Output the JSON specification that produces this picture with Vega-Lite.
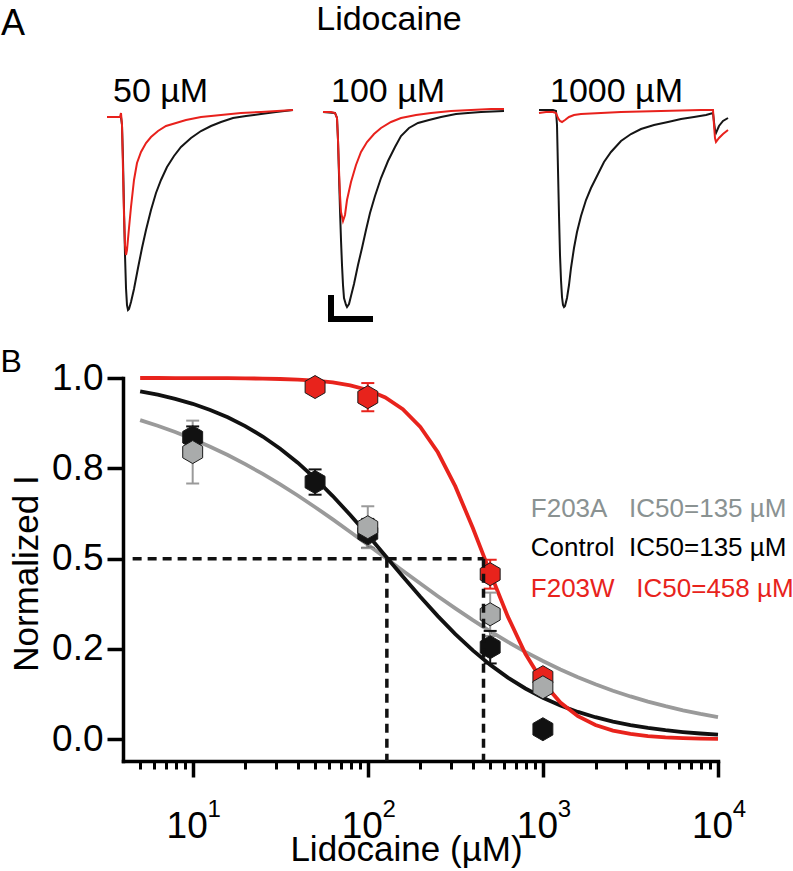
{
"$schema": "https://vega.github.io/schema/vega-lite/v6.json",
"background": "white",
"padding": {"left": 0, "top": 3, "right": 2, "bottom": 2},
"config": {"view": {"stroke": null}, "font": "Liberation Sans"},
"spacing": 22,
"datasets": {
"traces": [
{"dose":50,"c":"Control","t":0,"v":0},{"dose":50,"c":"Control","t":0.8,"v":0},{"dose":50,"c":"Control","t":1.4,"v":0},{"dose":50,"c":"Control","t":1.5,"v":-0.08},{"dose":50,"c":"Control","t":1.6,"v":-0.43},{"dose":50,"c":"Control","t":1.7,"v":-0.93},{"dose":50,"c":"Control","t":1.8,"v":-1.38},{"dose":50,"c":"Control","t":1.9,"v":-1.71},{"dose":50,"c":"Control","t":2.0,"v":-1.88},{"dose":50,"c":"Control","t":2.1,"v":-1.93},{"dose":50,"c":"Control","t":2.2,"v":-1.92},{"dose":50,"c":"Control","t":2.4,"v":-1.85},{"dose":50,"c":"Control","t":2.7,"v":-1.72},{"dose":50,"c":"Control","t":3.1,"v":-1.51},{"dose":50,"c":"Control","t":3.5,"v":-1.31},{"dose":50,"c":"Control","t":3.9,"v":-1.13},{"dose":50,"c":"Control","t":4.4,"v":-0.93},{"dose":50,"c":"Control","t":4.9,"v":-0.76},{"dose":50,"c":"Control","t":5.4,"v":-0.63},{"dose":50,"c":"Control","t":6.0,"v":-0.5},{"dose":50,"c":"Control","t":6.7,"v":-0.39},{"dose":50,"c":"Control","t":7.4,"v":-0.3},{"dose":50,"c":"Control","t":8.4,"v":-0.21},{"dose":50,"c":"Control","t":9.4,"v":-0.14},{"dose":50,"c":"Control","t":10.4,"v":-0.09},{"dose":50,"c":"Control","t":11.4,"v":-0.05},{"dose":50,"c":"Control","t":12.6,"v":-0.01},{"dose":50,"c":"Control","t":13.9,"v":0.01},{"dose":50,"c":"Control","t":15.4,"v":0.03},{"dose":50,"c":"Control","t":16.9,"v":0.05},{"dose":50,"c":"Control","t":18.6,"v":0.07},
{"dose":50,"c":"Lido","t":0,"v":0},{"dose":50,"c":"Lido","t":0.8,"v":0},{"dose":50,"c":"Lido","t":1.3,"v":0},{"dose":50,"c":"Lido","t":1.4,"v":0.04},{"dose":50,"c":"Lido","t":1.5,"v":-0.08},{"dose":50,"c":"Lido","t":1.6,"v":-0.53},{"dose":50,"c":"Lido","t":1.7,"v":-0.98},{"dose":50,"c":"Lido","t":1.8,"v":-1.28},{"dose":50,"c":"Lido","t":1.9,"v":-1.38},{"dose":50,"c":"Lido","t":2.0,"v":-1.33},{"dose":50,"c":"Lido","t":2.2,"v":-1.11},{"dose":50,"c":"Lido","t":2.4,"v":-0.9},{"dose":50,"c":"Lido","t":2.7,"v":-0.63},{"dose":50,"c":"Lido","t":3.0,"v":-0.46},{"dose":50,"c":"Lido","t":3.4,"v":-0.35},{"dose":50,"c":"Lido","t":3.9,"v":-0.26},{"dose":50,"c":"Lido","t":4.4,"v":-0.2},{"dose":50,"c":"Lido","t":5.1,"v":-0.14},{"dose":50,"c":"Lido","t":5.9,"v":-0.09},{"dose":50,"c":"Lido","t":6.9,"v":-0.06},{"dose":50,"c":"Lido","t":7.9,"v":-0.03},{"dose":50,"c":"Lido","t":9.4,"v":0},{"dose":50,"c":"Lido","t":11.4,"v":0.02},{"dose":50,"c":"Lido","t":13.4,"v":0.04},{"dose":50,"c":"Lido","t":15.4,"v":0.05},{"dose":50,"c":"Lido","t":18.6,"v":0.07},
{"dose":100,"c":"Control","t":0,"v":0.05},{"dose":100,"c":"Control","t":1.2,"v":0.04},{"dose":100,"c":"Control","t":1.4,"v":-0.01},{"dose":100,"c":"Control","t":1.5,"v":-0.23},{"dose":100,"c":"Control","t":1.6,"v":-0.58},{"dose":100,"c":"Control","t":1.7,"v":-0.93},{"dose":100,"c":"Control","t":1.8,"v":-1.23},{"dose":100,"c":"Control","t":1.9,"v":-1.48},{"dose":100,"c":"Control","t":2.0,"v":-1.68},{"dose":100,"c":"Control","t":2.1,"v":-1.81},{"dose":100,"c":"Control","t":2.3,"v":-1.88},{"dose":100,"c":"Control","t":2.4,"v":-1.9},{"dose":100,"c":"Control","t":2.6,"v":-1.87},{"dose":100,"c":"Control","t":2.8,"v":-1.79},{"dose":100,"c":"Control","t":3.1,"v":-1.67},{"dose":100,"c":"Control","t":3.5,"v":-1.48},{"dose":100,"c":"Control","t":3.9,"v":-1.31},{"dose":100,"c":"Control","t":4.3,"v":-1.13},{"dose":100,"c":"Control","t":4.7,"v":-0.96},{"dose":100,"c":"Control","t":5.2,"v":-0.79},{"dose":100,"c":"Control","t":5.8,"v":-0.61},{"dose":100,"c":"Control","t":6.5,"v":-0.44},{"dose":100,"c":"Control","t":7.2,"v":-0.3},{"dose":100,"c":"Control","t":7.8,"v":-0.19},{"dose":100,"c":"Control","t":8.6,"v":-0.11},{"dose":100,"c":"Control","t":9.5,"v":-0.06},{"dose":100,"c":"Control","t":10.6,"v":-0.03},{"dose":100,"c":"Control","t":11.8,"v":0},{"dose":100,"c":"Control","t":13.3,"v":0.03},{"dose":100,"c":"Control","t":14.5,"v":0.04},{"dose":100,"c":"Control","t":15.8,"v":0.05},{"dose":100,"c":"Control","t":18.1,"v":0.06},
{"dose":100,"c":"Lido","t":0,"v":0.05},{"dose":100,"c":"Lido","t":0.8,"v":0.05},{"dose":100,"c":"Lido","t":1.2,"v":0.04},{"dose":100,"c":"Lido","t":1.4,"v":-0.01},{"dose":100,"c":"Lido","t":1.5,"v":-0.23},{"dose":100,"c":"Lido","t":1.6,"v":-0.53},{"dose":100,"c":"Lido","t":1.7,"v":-0.78},{"dose":100,"c":"Lido","t":1.8,"v":-0.95},{"dose":100,"c":"Lido","t":2.0,"v":-1.04},{"dose":100,"c":"Lido","t":2.2,"v":-0.98},{"dose":100,"c":"Lido","t":2.4,"v":-0.83},{"dose":100,"c":"Lido","t":2.8,"v":-0.65},{"dose":100,"c":"Lido","t":3.3,"v":-0.48},{"dose":100,"c":"Lido","t":3.8,"v":-0.35},{"dose":100,"c":"Lido","t":4.4,"v":-0.25},{"dose":100,"c":"Lido","t":5.1,"v":-0.17},{"dose":100,"c":"Lido","t":5.8,"v":-0.11},{"dose":100,"c":"Lido","t":6.8,"v":-0.05},{"dose":100,"c":"Lido","t":7.8,"v":-0.01},{"dose":100,"c":"Lido","t":9.3,"v":0.02},{"dose":100,"c":"Lido","t":10.8,"v":0.04},{"dose":100,"c":"Lido","t":12.8,"v":0.06},{"dose":100,"c":"Lido","t":14.8,"v":0.07},{"dose":100,"c":"Lido","t":16.8,"v":0.08},{"dose":100,"c":"Lido","t":18.1,"v":0.08},
{"dose":1000,"c":"Control","t":0,"v":0.07},{"dose":1000,"c":"Control","t":0.7,"v":0.07},{"dose":1000,"c":"Control","t":1.4,"v":0.07},{"dose":1000,"c":"Control","t":1.7,"v":0.06},{"dose":1000,"c":"Control","t":1.8,"v":-0.08},{"dose":1000,"c":"Control","t":1.9,"v":-0.53},{"dose":1000,"c":"Control","t":2.0,"v":-0.98},{"dose":1000,"c":"Control","t":2.1,"v":-1.38},{"dose":1000,"c":"Control","t":2.2,"v":-1.63},{"dose":1000,"c":"Control","t":2.3,"v":-1.8},{"dose":1000,"c":"Control","t":2.4,"v":-1.88},{"dose":1000,"c":"Control","t":2.5,"v":-1.9},{"dose":1000,"c":"Control","t":2.6,"v":-1.89},{"dose":1000,"c":"Control","t":2.8,"v":-1.81},{"dose":1000,"c":"Control","t":3.0,"v":-1.68},{"dose":1000,"c":"Control","t":3.2,"v":-1.51},{"dose":1000,"c":"Control","t":3.5,"v":-1.31},{"dose":1000,"c":"Control","t":3.8,"v":-1.15},{"dose":1000,"c":"Control","t":4.2,"v":-0.99},{"dose":1000,"c":"Control","t":4.7,"v":-0.83},{"dose":1000,"c":"Control","t":5.2,"v":-0.71},{"dose":1000,"c":"Control","t":5.9,"v":-0.57},{"dose":1000,"c":"Control","t":6.5,"v":-0.45},{"dose":1000,"c":"Control","t":7.2,"v":-0.35},{"dose":1000,"c":"Control","t":8.2,"v":-0.24},{"dose":1000,"c":"Control","t":9.2,"v":-0.17},{"dose":1000,"c":"Control","t":10.2,"v":-0.12},{"dose":1000,"c":"Control","t":11.5,"v":-0.08},{"dose":1000,"c":"Control","t":12.9,"v":-0.05},{"dose":1000,"c":"Control","t":14.2,"v":-0.02},{"dose":1000,"c":"Control","t":15.5,"v":0},{"dose":1000,"c":"Control","t":16.7,"v":0.02},{"dose":1000,"c":"Control","t":17.4,"v":0.04},{"dose":1000,"c":"Control","t":17.5,"v":-0.05},{"dose":1000,"c":"Control","t":17.6,"v":-0.13},{"dose":1000,"c":"Control","t":17.7,"v":-0.16},{"dose":1000,"c":"Control","t":18.0,"v":-0.09},{"dose":1000,"c":"Control","t":18.4,"v":-0.04},{"dose":1000,"c":"Control","t":18.9,"v":-0.01},
{"dose":1000,"c":"Lido","t":0,"v":0.04},{"dose":1000,"c":"Lido","t":0.7,"v":0.05},{"dose":1000,"c":"Lido","t":1.4,"v":0.05},{"dose":1000,"c":"Lido","t":1.7,"v":0.04},{"dose":1000,"c":"Lido","t":1.9,"v":-0.01},{"dose":1000,"c":"Lido","t":2.1,"v":-0.04},{"dose":1000,"c":"Lido","t":2.3,"v":-0.05},{"dose":1000,"c":"Lido","t":2.6,"v":-0.03},{"dose":1000,"c":"Lido","t":3.0,"v":0},{"dose":1000,"c":"Lido","t":3.5,"v":0.02},{"dose":1000,"c":"Lido","t":4.2,"v":0.03},{"dose":1000,"c":"Lido","t":6.2,"v":0.04},{"dose":1000,"c":"Lido","t":8.2,"v":0.05},{"dose":1000,"c":"Lido","t":10.2,"v":0.055},{"dose":1000,"c":"Lido","t":12.2,"v":0.06},{"dose":1000,"c":"Lido","t":14.2,"v":0.065},{"dose":1000,"c":"Lido","t":16.2,"v":0.07},{"dose":1000,"c":"Lido","t":17.4,"v":0.07},{"dose":1000,"c":"Lido","t":17.5,"v":-0.08},{"dose":1000,"c":"Lido","t":17.6,"v":-0.21},{"dose":1000,"c":"Lido","t":17.7,"v":-0.25},{"dose":1000,"c":"Lido","t":18.0,"v":-0.21},{"dose":1000,"c":"Lido","t":18.4,"v":-0.17},{"dose":1000,"c":"Lido","t":18.9,"v":-0.13}
],
"scalebar": [{"t":0.8,"t2":0.8,"v":-1.81,"v2":-2.02},{"t":0.8,"t2":4.7,"v":-2.02,"v2":-2.02}],
"curves": [
{"s":"F203A","x":5.012,"y":0.8834},{"s":"F203A","x":6.31,"y":0.8678},{"s":"F203A","x":7.943,"y":0.8504},{"s":"F203A","x":10,"y":0.8311},{"s":"F203A","x":12.59,"y":0.8099},{"s":"F203A","x":15.85,"y":0.7868},{"s":"F203A","x":19.95,"y":0.7616},{"s":"F203A","x":25.12,"y":0.7345},{"s":"F203A","x":31.62,"y":0.7055},{"s":"F203A","x":39.81,"y":0.6748},{"s":"F203A","x":50.12,"y":0.6424},{"s":"F203A","x":63.1,"y":0.6087},{"s":"F203A","x":79.43,"y":0.574},{"s":"F203A","x":100,"y":0.5385},{"s":"F203A","x":125.9,"y":0.5025},{"s":"F203A","x":158.5,"y":0.4666},{"s":"F203A","x":199.5,"y":0.431},{"s":"F203A","x":251.2,"y":0.3961},{"s":"F203A","x":316.2,"y":0.3623},{"s":"F203A","x":398.1,"y":0.3297},{"s":"F203A","x":501.2,"y":0.2987},{"s":"F203A","x":631,"y":0.2695},{"s":"F203A","x":794.3,"y":0.2421},{"s":"F203A","x":1000,"y":0.2167},{"s":"F203A","x":1259,"y":0.1932},{"s":"F203A","x":1585,"y":0.1718},{"s":"F203A","x":1995,"y":0.1523},{"s":"F203A","x":2512,"y":0.1346},{"s":"F203A","x":3162,"y":0.1187},{"s":"F203A","x":3981,"y":0.1045},{"s":"F203A","x":5012,"y":0.0917},{"s":"F203A","x":6310,"y":0.0804},{"s":"F203A","x":7943,"y":0.0704},{"s":"F203A","x":10000,"y":0.0616},
{"s":"Control","x":5.012,"y":0.9629},{"s":"Control","x":6.31,"y":0.9537},{"s":"Control","x":7.943,"y":0.9424},{"s":"Control","x":10,"y":0.9286},{"s":"Control","x":12.59,"y":0.9117},{"s":"Control","x":15.85,"y":0.8913},{"s":"Control","x":19.95,"y":0.8669},{"s":"Control","x":25.12,"y":0.8381},{"s":"Control","x":31.62,"y":0.8044},{"s":"Control","x":39.81,"y":0.7656},{"s":"Control","x":50.12,"y":0.7218},{"s":"Control","x":63.1,"y":0.6733},{"s":"Control","x":79.43,"y":0.6208},{"s":"Control","x":100,"y":0.5652},{"s":"Control","x":125.9,"y":0.508},{"s":"Control","x":158.5,"y":0.4507},{"s":"Control","x":199.5,"y":0.3945},{"s":"Control","x":251.2,"y":0.3411},{"s":"Control","x":316.2,"y":0.2914},{"s":"Control","x":398.1,"y":0.2462},{"s":"Control","x":501.2,"y":0.206},{"s":"Control","x":631,"y":0.1709},{"s":"Control","x":794.3,"y":0.1407},{"s":"Control","x":1000,"y":0.1151},{"s":"Control","x":1259,"y":0.0936},{"s":"Control","x":1585,"y":0.0758},{"s":"Control","x":1995,"y":0.0612},{"s":"Control","x":2512,"y":0.0492},{"s":"Control","x":3162,"y":0.0395},{"s":"Control","x":3981,"y":0.0316},{"s":"Control","x":5012,"y":0.0253},{"s":"Control","x":6310,"y":0.0202},{"s":"Control","x":7943,"y":0.0161},{"s":"Control","x":10000,"y":0.0128},
{"s":"F203W","x":5.012,"y":1.0},{"s":"F203W","x":6.31,"y":1.0},{"s":"F203W","x":7.943,"y":0.9999},{"s":"F203W","x":10,"y":0.9998},{"s":"F203W","x":12.59,"y":0.9996},{"s":"F203W","x":15.85,"y":0.9994},{"s":"F203W","x":19.95,"y":0.999},{"s":"F203W","x":25.12,"y":0.9983},{"s":"F203W","x":31.62,"y":0.9972},{"s":"F203W","x":39.81,"y":0.9954},{"s":"F203W","x":50.12,"y":0.9925},{"s":"F203W","x":63.1,"y":0.9876},{"s":"F203W","x":79.43,"y":0.9796},{"s":"F203W","x":100,"y":0.9667},{"s":"F203W","x":125.9,"y":0.946},{"s":"F203W","x":158.5,"y":0.9138},{"s":"F203W","x":199.5,"y":0.8648},{"s":"F203W","x":251.2,"y":0.7944},{"s":"F203W","x":316.2,"y":0.7},{"s":"F203W","x":398.1,"y":0.5849},{"s":"F203W","x":501.2,"y":0.4598},{"s":"F203W","x":631,"y":0.3396},{"s":"F203W","x":794.3,"y":0.2369},{"s":"F203W","x":1000,"y":0.1579},{"s":"F203W","x":1259,"y":0.1017},{"s":"F203W","x":1585,"y":0.064},{"s":"F203W","x":1995,"y":0.0397},{"s":"F203W","x":2512,"y":0.0243},{"s":"F203W","x":3162,"y":0.0148},{"s":"F203W","x":3981,"y":0.009},{"s":"F203W","x":5012,"y":0.0055},{"s":"F203W","x":6310,"y":0.0033},{"s":"F203W","x":7943,"y":0.002},{"s":"F203W","x":10000,"y":0.0012}
],
"points": [
{"s":"Control","x":10,"y":0.836,"lo":0.806,"hi":0.866},
{"s":"Control","x":50,"y":0.712,"lo":0.677,"hi":0.747},
{"s":"Control","x":100,"y":0.57,"lo":0.53,"hi":0.61},
{"s":"Control","x":500,"y":0.255,"lo":0.21,"hi":0.3},
{"s":"Control","x":1000,"y":0.028,"lo":0.018,"hi":0.038},
{"s":"F203W","x":50,"y":0.975,"lo":0.963,"hi":0.987},
{"s":"F203W","x":100,"y":0.947,"lo":0.908,"hi":0.986},
{"s":"F203W","x":500,"y":0.457,"lo":0.417,"hi":0.497},
{"s":"F203W","x":1000,"y":0.172,"lo":0.157,"hi":0.187},
{"s":"F203A","x":10,"y":0.795,"lo":0.708,"hi":0.882},
{"s":"F203A","x":100,"y":0.587,"lo":0.529,"hi":0.645},
{"s":"F203A","x":500,"y":0.346,"lo":0.286,"hi":0.406},
{"s":"F203A","x":1000,"y":0.144,"lo":0.132,"hi":0.156}
],
"guides": [
{"x":4.54,"x2":458,"y":0.5,"y2":0.5},
{"x":128.5,"x2":128.5,"y":0.5,"y2":-0.06},
{"x":458,"x2":458,"y":0.5,"y2":-0.06}
],
"legend": [
{"s":"F203A","label":"F203A\u00a0\u00a0\u00a0IC50=135 µM","x":853,"y":0.615},
{"s":"Control","label":"Control\u00a0\u00a0IC50=135 µM","x":853,"y":0.507},
{"s":"F203W","label":"F203W\u00a0\u00a0\u00a0IC50=458 µM","x":853,"y":0.393}
]
},
"vconcat": [
{
"hconcat": [
{
"width": 174, "height": 210,
"layer": [
{"data": {"name": "traces"}, "transform": [{"filter": "datum.dose === 50 && datum.c === 'Control'"}], "mark": {"type": "line", "color": "#151515", "strokeWidth": 2}, "encoding": {"x": {"field": "t", "type": "quantitative", "scale": {"domain": [1.6, 19], "nice": false, "zero": false}, "axis": null}, "y": {"field": "v", "type": "quantitative", "scale": {"domain": [-1.99, 0.11], "nice": false, "zero": false}, "axis": null}}},
{"data": {"name": "traces"}, "transform": [{"filter": "datum.dose === 50 && datum.c === 'Lido'"}], "mark": {"type": "line", "color": "#e8211c", "strokeWidth": 2}, "encoding": {"x": {"field": "t", "type": "quantitative", "axis": null}, "y": {"field": "v", "type": "quantitative", "axis": null}}},
{"data": {"values": [{"label": "50 µM"}]}, "mark": {"type": "text", "align": "left", "baseline": "alphabetic", "fontSize": 34, "font": "Liberation Sans", "color": "#000"}, "encoding": {"x": {"datum": 0.6, "type": "quantitative", "axis": null}, "y": {"datum": 0.15, "type": "quantitative", "axis": null}, "text": {"field": "label"}}},
{"data": {"values": [{"label": "A"}]}, "mark": {"type": "text", "align": "left", "baseline": "alphabetic", "fontSize": 36, "font": "Liberation Sans", "color": "#000"}, "encoding": {"x": {"datum": -10.6, "type": "quantitative", "axis": null}, "y": {"datum": 0.82, "type": "quantitative", "axis": null}, "text": {"field": "label"}}}
]
},
{
"width": 190, "height": 210,
"layer": [
{"data": {"name": "traces"}, "transform": [{"filter": "datum.dose === 100 && datum.c === 'Control'"}], "mark": {"type": "line", "color": "#151515", "strokeWidth": 2}, "encoding": {"x": {"field": "t", "type": "quantitative", "scale": {"domain": [0, 19], "nice": false, "zero": false}, "axis": null}, "y": {"field": "v", "type": "quantitative", "scale": {"domain": [-1.99, 0.11], "nice": false, "zero": false}, "axis": null}}},
{"data": {"name": "traces"}, "transform": [{"filter": "datum.dose === 100 && datum.c === 'Lido'"}], "mark": {"type": "line", "color": "#e8211c", "strokeWidth": 2}, "encoding": {"x": {"field": "t", "type": "quantitative", "axis": null}, "y": {"field": "v", "type": "quantitative", "axis": null}}},
{"data": {"name": "scalebar"}, "mark": {"type": "rule", "color": "#000", "strokeWidth": 6, "strokeCap": "square"}, "encoding": {"x": {"field": "t", "type": "quantitative", "axis": null}, "x2": {"field": "t2"}, "y": {"field": "v", "type": "quantitative", "axis": null}, "y2": {"field": "v2"}}},
{"data": {"values": [{"label": "100 µM"}]}, "mark": {"type": "text", "align": "left", "baseline": "alphabetic", "fontSize": 34, "font": "Liberation Sans", "color": "#000"}, "encoding": {"x": {"datum": 0.8, "type": "quantitative", "axis": null}, "y": {"datum": 0.15, "type": "quantitative", "axis": null}, "text": {"field": "label"}}},
{"data": {"values": [{"label": "Lidocaine"}]}, "mark": {"type": "text", "align": "center", "baseline": "alphabetic", "fontSize": 34, "font": "Liberation Sans", "color": "#000"}, "encoding": {"x": {"datum": 6.6, "type": "quantitative", "axis": null}, "y": {"datum": 0.87, "type": "quantitative", "axis": null}, "text": {"field": "label"}}}
]
},
{
"width": 190, "height": 210,
"layer": [
{"data": {"name": "traces"}, "transform": [{"filter": "datum.dose === 1000 && datum.c === 'Control'"}], "mark": {"type": "line", "color": "#151515", "strokeWidth": 2}, "encoding": {"x": {"field": "t", "type": "quantitative", "scale": {"domain": [0, 19], "nice": false, "zero": false}, "axis": null}, "y": {"field": "v", "type": "quantitative", "scale": {"domain": [-1.99, 0.11], "nice": false, "zero": false}, "axis": null}}},
{"data": {"name": "traces"}, "transform": [{"filter": "datum.dose === 1000 && datum.c === 'Lido'"}], "mark": {"type": "line", "color": "#e8211c", "strokeWidth": 2}, "encoding": {"x": {"field": "t", "type": "quantitative", "axis": null}, "y": {"field": "v", "type": "quantitative", "axis": null}}},
{"data": {"values": [{"label": "1000 µM"}]}, "mark": {"type": "text", "align": "left", "baseline": "alphabetic", "fontSize": 34, "font": "Liberation Sans", "color": "#000"}, "encoding": {"x": {"datum": 1.1, "type": "quantitative", "axis": null}, "y": {"datum": 0.15, "type": "quantitative", "axis": null}, "text": {"field": "label"}}}
]
}
],
"spacing": 26,
"bounds": "flush"
},
{
"width": 595, "height": 383,
"layer": [
{"data": {"name": "curves"}, "mark": {"type": "line", "strokeWidth": 3.8},
 "encoding": {
  "x": {"field": "x", "type": "quantitative", "scale": {"type": "log", "domain": [4, 10000], "nice": false},
        "axis": {"orient": "bottom", "values": [5,6,7,8,9,20,30,40,50,60,70,80,90,200,300,400,500,600,700,800,900,2000,3000,4000,5000,6000,7000,8000,9000], "labels": false, "tickSize": 8, "tickWidth": 3, "tickColor": "#000", "domain": true, "domainWidth": 3.5, "domainColor": "#000", "domainCap": "square", "title": null, "grid": false}},
  "y": {"field": "y", "type": "quantitative", "scale": {"domain": [-0.06, 1], "nice": false, "zero": false},
        "axis": {"values": [0, 0.25, 0.5, 0.75, 1], "labelExpr": "datum.value == 0.25 ? '0.2' : datum.value == 0.75 ? '0.8' : format(datum.value, '.1f')", "tickSize": 16, "tickWidth": 3.5, "tickColor": "#000", "domain": true, "domainWidth": 3.5, "domainColor": "#000", "domainCap": "square", "labelFontSize": 37, "labelPadding": 4, "labelColor": "#000", "labelFont": "Liberation Sans", "labelFlush": false, "labelOverlap": false, "grid": false, "title": "Normalized I", "titleFontSize": 35, "titleFontWeight": "normal", "titleFont": "Liberation Sans", "titleColor": "#000", "titleX": -86, "titleY": 195, "titleBaseline": "alphabetic", "titleAngle": -90}},
  "stroke": {"field": "s", "type": "nominal", "scale": {"domain": ["F203A", "Control", "F203W"], "range": ["#9a9a9a", "#111111", "#e8231c"]}, "legend": null}
 }},
{"data": {"name": "points"}, "mark": {"type": "rule", "strokeWidth": 2},
 "encoding": {"x": {"field": "x", "type": "quantitative", "scale": {"type": "log", "domain": [4, 10000], "nice": false}, "axis": null}, "y": {"field": "lo", "type": "quantitative", "scale": {"domain": [-0.06, 1], "nice": false, "zero": false}}, "y2": {"field": "hi"}, "stroke": {"field": "s", "type": "nominal", "legend": null}}},
{"data": {"name": "points"}, "mark": {"type": "point", "shape": "M-1,0L1,0", "size": 169, "filled": false, "strokeWidth": 2, "opacity": 1},
 "encoding": {"x": {"field": "x", "type": "quantitative", "scale": {"type": "log", "domain": [4, 10000], "nice": false}, "axis": null}, "y": {"field": "hi", "type": "quantitative", "scale": {"domain": [-0.06, 1], "nice": false, "zero": false}}, "stroke": {"field": "s", "type": "nominal", "legend": null}}},
{"data": {"name": "points"}, "mark": {"type": "point", "shape": "M-1,0L1,0", "size": 169, "filled": false, "strokeWidth": 2, "opacity": 1},
 "encoding": {"x": {"field": "x", "type": "quantitative", "scale": {"type": "log", "domain": [4, 10000], "nice": false}, "axis": null}, "y": {"field": "lo", "type": "quantitative", "scale": {"domain": [-0.06, 1], "nice": false, "zero": false}}, "stroke": {"field": "s", "type": "nominal", "legend": null}}},
{"data": {"name": "points"}, "mark": {"type": "point", "shape": "M0,-1L0.866,-0.5L0.866,0.5L0,1L-0.866,0.5L-0.866,-0.5Z", "size": 529, "filled": true, "opacity": 1, "stroke": "#1a1a1a", "strokeWidth": 1},
 "encoding": {"x": {"field": "x", "type": "quantitative", "scale": {"type": "log", "domain": [4, 10000], "nice": false}, "axis": null}, "y": {"field": "y", "type": "quantitative", "scale": {"domain": [-0.06, 1], "nice": false, "zero": false}}, "fill": {"field": "s", "type": "nominal", "scale": {"domain": ["F203A", "Control", "F203W"], "range": ["#a9abab", "#111111", "#e8231c"]}, "legend": null}}},
{"data": {"name": "guides"}, "mark": {"type": "rule", "strokeWidth": 3.5, "strokeDash": [9, 6], "color": "#111111"},
 "encoding": {
  "x": {"field": "x", "type": "quantitative", "scale": {"type": "log", "domain": [4, 10000], "nice": false},
        "axis": {"orient": "bottom", "values": [10, 100, 1000, 10000], "tickSize": 16, "tickWidth": 3.5, "tickColor": "#000", "domain": false, "labelExpr": "'10'", "labelFontSize": 37, "labelFont": "Liberation Sans", "labelBaseline": "alphabetic", "labelPadding": 60, "labelOffset": -6, "labelFlush": false, "labelOverlap": false, "labelColor": "#000", "grid": false, "title": "Lidocaine (µM)", "titleFontSize": 35, "titleFontWeight": "normal", "titleFont": "Liberation Sans", "titleColor": "#000", "titleX": 283, "titleY": 99, "titleBaseline": "alphabetic"}},
  "x2": {"field": "x2"},
  "y": {"field": "y", "type": "quantitative", "scale": {"domain": [-0.06, 1], "nice": false, "zero": false}},
  "y2": {"field": "y2"}
 }},
{"data": {"name": "legend"}, "mark": {"type": "text", "align": "left", "baseline": "alphabetic", "fontSize": 26, "font": "Liberation Sans"},
 "encoding": {
  "x": {"field": "x", "type": "quantitative", "scale": {"type": "log", "domain": [4, 10000], "nice": false},
        "axis": {"orient": "bottom", "values": [10, 100, 1000, 10000], "ticks": false, "tickSize": 0, "domain": false, "labelExpr": "datum.value == 10 ? '1' : datum.value == 100 ? '2' : datum.value == 1000 ? '3' : '4'", "labelFontSize": 24, "labelFont": "Liberation Sans", "labelBaseline": "alphabetic", "labelPadding": 55, "labelOffset": 21, "labelFlush": false, "labelOverlap": false, "labelColor": "#000", "grid": false, "title": null}},
  "y": {"field": "y", "type": "quantitative", "scale": {"domain": [-0.06, 1], "nice": false, "zero": false}},
  "text": {"field": "label"},
  "color": {"field": "s", "type": "nominal", "scale": {"domain": ["F203A", "Control", "F203W"], "range": ["#8a9292", "#000000", "#e8231c"]}, "legend": null}
 }},
{"data": {"values": [{"label": "B"}]}, "mark": {"type": "text", "align": "left", "baseline": "alphabetic", "fontSize": 32, "font": "Liberation Sans", "color": "#000"},
 "encoding": {"x": {"datum": 0.8, "type": "quantitative", "scale": {"type": "log", "domain": [4, 10000], "nice": false}, "axis": null}, "y": {"datum": 1.0166, "type": "quantitative", "scale": {"domain": [-0.06, 1], "nice": false, "zero": false}}, "text": {"field": "label"}}}
],
"resolve": {"axis": {"x": "independent"}}
}
]
}
